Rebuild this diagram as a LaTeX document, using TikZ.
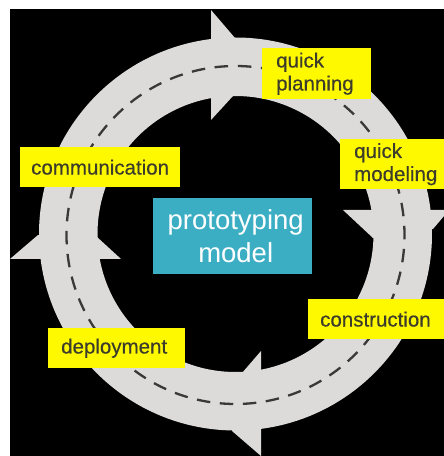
\documentclass[tikz,border=0pt]{standalone}
\usepackage{fontspec}
\setmainfont{Liberation Sans}
\newfontfamily\labelfont[FakeBold=0.35]{Liberation Sans}
\definecolor{ringgrey}{HTML}{DCDBDA}
\definecolor{dashgrey}{HTML}{3A3838}
\definecolor{boxyellow}{HTML}{FFF900}
\definecolor{labelgrey}{HTML}{3C3C2C}
\definecolor{tealbox}{HTML}{3CAEC4}
\tikzset{
  ybox/.style={fill=boxyellow,draw=none,inner sep=0pt,anchor=north west,align=left,
    text=labelgrey,font=\labelfont\fontsize{20.5}{23}\selectfont},
  ringshape/.style={fill=ringgrey,draw=none},
}
\begin{document}
\begin{tikzpicture}[x=1pt,y=1pt]
\useasboundingbox (0,0) rectangle (444,456);
\fill[white] (0,0) rectangle (444,456);
\fill[black] (10,0) rectangle (444,447);
% ring
\fill[ringshape,even odd rule] (235.5,222) circle[radius=196.5] (235.5,222) circle[radius=138];
% arrowheads: top, right, bottom, left
\fill[ringshape] (211,446) -- (235,418) -- (233,360) -- (211,336) -- cycle;
\fill[ringshape] (343,246) -- (373,218) -- (433,227) -- (444,240) -- (444,246) -- cycle;
\fill[ringshape] (261,105) -- (242,83) -- (232,25) -- (261,0) -- cycle;
\fill[ringshape] (10,197) -- (38,221) -- (97,219) -- (121,197) -- cycle;
% dashed centre line
\draw[dashgrey,line width=2.3pt,dash pattern=on 13.5pt off 9.58pt,dash phase=15.6pt]
  (235.5,390) arc[start angle=90,end angle=450,radius=169];
% boxes
\node[ybox,text width=109pt,minimum height=51pt] (planning) at (262,408)
  {\hspace*{14pt}quick\\\hspace*{14pt}planning};
\node[ybox,text width=104pt,minimum height=50pt] (modeling) at (340,317)
  {\hspace*{14pt}quick\\\hspace*{14pt}modeling};
\node[ybox,text width=160pt,minimum height=40pt] (communication) at (20,309)
  {\hspace*{11pt}communication};
\node[ybox,text width=137pt,minimum height=40pt] (deployment) at (48,128)
  {\hspace*{13pt}deployment};
\node[ybox,text width=136pt,minimum height=40pt] (construction) at (308,157)
  {\hspace*{12pt}construction};
\node[fill=tealbox,text=white,anchor=north west,inner sep=0pt,align=center,
  text width=159pt,minimum height=76pt,font=\fontsize{27.5}{33}\selectfont] (model) at (153,258)
  {\hspace*{6pt}prototyping\\\hspace*{6pt}model};
\end{tikzpicture}
\end{document}
